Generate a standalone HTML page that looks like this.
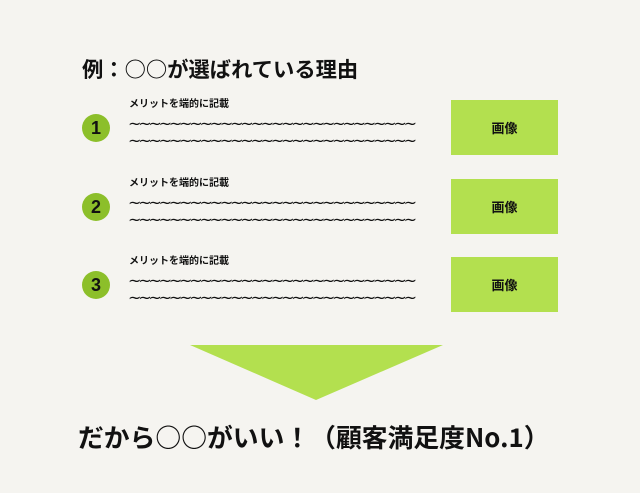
<!DOCTYPE html>
<html><head><meta charset="utf-8"><style>
body{margin:0;width:640px;height:493px;background:#f5f4f0;position:relative;overflow:hidden;font-family:"Noto Sans CJK JP",sans-serif;color:#111}
.a{position:absolute;white-space:nowrap}
.t{font-weight:bold;font-size:21.3px;left:82px;top:54px;line-height:30px}
.c{width:28px;height:28px;border-radius:50%;background:#8cbf2a;font-weight:bold;font-size:18px;text-align:center;line-height:28px;left:82px;font-family:"Liberation Sans",sans-serif}
.s{font-size:10px;font-weight:bold;left:129px;line-height:14px}
.w{font-size:16px;left:128px;letter-spacing:-3.2px;line-height:17px;font-family:"DejaVu Sans",sans-serif}
.b{left:451px;width:107px;height:55px;background:#b3e04f;font-size:13px;font-weight:bold;text-align:center;line-height:55px}
.f{font-weight:bold;font-size:25.8px;left:78px;top:419px;line-height:36px}
</style></head><body>
<div class="a t">例：○○が選ばれている理由</div>

<div class="a c" style="top:114px">1</div>
<div class="a s" style="top:96px">メリットを端的に記載</div>
<div class="a w" style="top:115px">~~~~~~~~~~~~~~~~~~~~~~~~~~~~<br>~~~~~~~~~~~~~~~~~~~~~~~~~~~~</div>
<div class="a b" style="top:100px">画像</div>

<div class="a c" style="top:193px">2</div>
<div class="a s" style="top:175px">メリットを端的に記載</div>
<div class="a w" style="top:194px">~~~~~~~~~~~~~~~~~~~~~~~~~~~~<br>~~~~~~~~~~~~~~~~~~~~~~~~~~~~</div>
<div class="a b" style="top:179px">画像</div>

<div class="a c" style="top:271px">3</div>
<div class="a s" style="top:253px">メリットを端的に記載</div>
<div class="a w" style="top:272px">~~~~~~~~~~~~~~~~~~~~~~~~~~~~<br>~~~~~~~~~~~~~~~~~~~~~~~~~~~~</div>
<div class="a b" style="top:257px">画像</div>

<svg class="a" style="left:0;top:0" width="640" height="493"><polygon points="190,345 443,345 316,400" fill="#b3e04f"/></svg>
<div class="a f">だから○○がいい！（顧客満足度No.1）</div>
</body></html>
